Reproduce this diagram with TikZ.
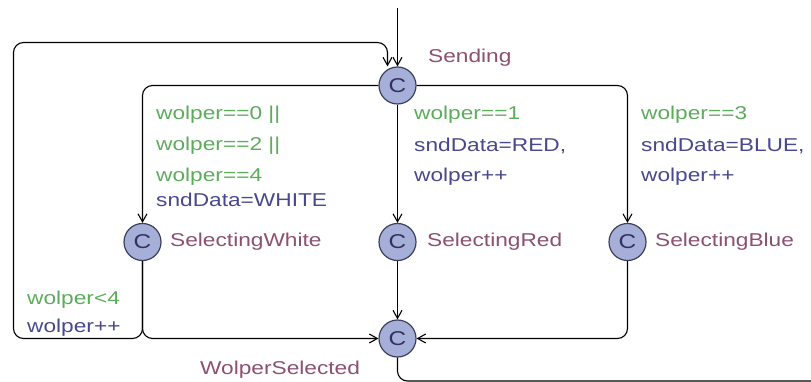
\documentclass[tikz,border=0pt]{standalone}
\usepackage{fontspec}
\setmainfont{Liberation Sans}[FakeStretch=1.22]
\usepackage{tikz}
\usetikzlibrary{arrows.meta,positioning,calc}
\definecolor{locfill}{RGB}{166,175,216}
\definecolor{locdraw}{RGB}{60,64,92}
\definecolor{guardgreen}{RGB}{92,172,92}
\definecolor{assignblue}{RGB}{72,72,140}
\definecolor{namepurple}{RGB}{140,80,112}

\begin{document}
\begin{tikzpicture}[
  x=1pt, y=-1pt,
  loc/.style={circle, draw=locdraw, fill=locfill, line width=1.2pt,
              minimum size=37pt, inner sep=0pt, font=\fontsize{20}{20}\selectfont,
              text=assignblue!70!black},
  guard/.style={anchor=west, inner sep=0pt, text=guardgreen,
                font=\fontsize{18.6}{20}\selectfont},
  assign/.style={anchor=west, inner sep=0pt, text=assignblue,
                 font=\fontsize{18.6}{20}\selectfont},
  locname/.style={anchor=west, inner sep=0pt, text=namepurple,
                  font=\fontsize{18.6}{20}\selectfont},
  arr/.style={-{Straight Barb[length=8pt, width=9pt]}, line width=1.1pt,
              rounded corners=10pt},
  edge/.style={line width=1.1pt, rounded corners=10pt},
]
  \useasboundingbox (0,0) rectangle (811,382);

  % locations
  \node[loc] (sending) at (397.5,85.5) {C};
  \node[loc] (selwhite) at (142.5,242) {C};
  \node[loc] (selred) at (397.5,242) {C};
  \node[loc] (selblue) at (627.5,242) {C};
  \node[loc] (selected) at (397.5,338.5) {C};

  \node[locname] (nsending) at (428,58) {Sending};
  \node[locname] (nwhite) at (170,242) {SelectingWhite};
  \node[locname] (nred) at (427,242) {SelectingRed};
  \node[locname] (nblue) at (655,242) {SelectingBlue};
  \node[locname] (nselected) at (200,370) {WolperSelected};

  % initial
  \coordinate (init) at (397.5,8);
  \draw[arr] (init) -- (sending);

  % from Sending
  \draw[arr] (sending.west) -| (selwhite.north);
  \draw[arr] (sending) -- (selred);
  \draw[arr] (sending.east) -| (selblue.north);

  \node[guard] (g0) at (156,115) {wolper==0 ||};
  \node[guard] (g2) at (156,146) {wolper==2 ||};
  \node[guard] (g4) at (156,177) {wolper==4};
  \node[assign] (awhite) at (156,200) {sndData=WHITE};

  \node[guard] (g1) at (414,115) {wolper==1};
  \node[assign] (ared) at (414,146) {sndData=RED,};
  \node[assign] (ared2) at (414,177) {wolper++};

  \node[guard] (g3) at (641,115) {wolper==3};
  \node[assign] (ablue) at (641,146) {sndData=BLUE,};
  \node[assign] (ablue2) at (641,177) {wolper++};

  % into WolperSelected
  \draw[arr] (selwhite.south) |- (selected.west);
  \draw[arr] (selred) -- (selected);
  \draw[arr] (selblue.south) |- (selected.east);

  % back to Sending
  \coordinate (loopbl) at (13.5,338.5);
  \coordinate (looptl) at (13.5,42.5);
  \coordinate (looptr) at (387.5,42.5);
  \draw[arr] (selwhite.south) -- (142.5,338.5) -- (loopbl) -- (looptl) -- (looptr)
    -- ([xshift=-10pt]sending.north);
  \node[guard] (glt) at (27,300) {wolper<4};
  \node[assign] (alt) at (27,328) {wolper++};

  % leaving WolperSelected
  \coordinate (out) at (811,381);
  \draw[edge] (selected.south) |- (out);
\end{tikzpicture}
\end{document}
